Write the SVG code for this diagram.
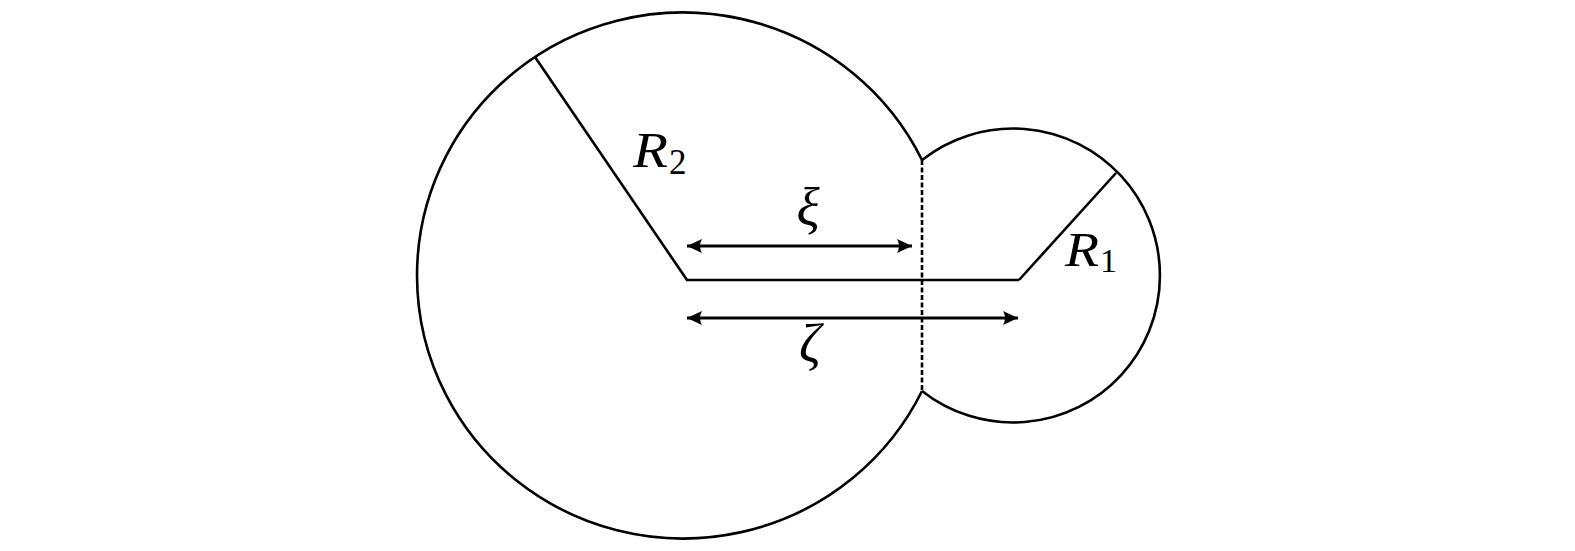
<svg xmlns="http://www.w3.org/2000/svg" width="1575" height="551" viewBox="0 0 1575 551">
  <style>
    .edge { fill: none; stroke: #000; stroke-width: 2.6; }
    .line { fill: none; stroke: #000; stroke-width: 2.6; }
    .arrow { fill: none; stroke: #000; stroke-width: 3.2; marker-start: url(#head); marker-end: url(#head); }
    .dash { fill: none; stroke: #000; stroke-width: 2.6; stroke-dasharray: 5 2.5; }
    .lbl { font-family: "Liberation Serif", "DejaVu Serif", serif; font-style: italic; fill: #000; }
    .sub { font-family: "Liberation Serif", "DejaVu Serif", serif; font-style: normal; fill: #000; }
  </style>
  <defs>
    <marker id="head" viewBox="-16 -8 17 16" refX="0" refY="0" markerWidth="17" markerHeight="16" markerUnits="userSpaceOnUse" orient="auto-start-reverse">
      <path d="M0,0 L-15,-7 Q-11,0 -15,7 Z" fill="#000"/>
    </marker>
  </defs>
  <rect width="1575" height="551" fill="#fff"/>
  <g id="big-circle">
    <path class="edge" d="M922,160 A266,263 0 1 0 922,391"/>
    <line class="line" x1="535" y1="57" x2="687" y2="280"/>
    <text class="lbl" x="633" y="167" font-size="50" textLength="35" lengthAdjust="spacingAndGlyphs">R</text>
    <text class="sub" x="669" y="174" font-size="35">2</text>
  </g>
  <g id="small-circle">
    <path class="edge" d="M922,160 A147,147 0 1 1 922,391"/>
    <line class="line" x1="1116" y1="173" x2="1019" y2="280"/>
    <text class="lbl" x="1065" y="266" font-size="48" textLength="34" lengthAdjust="spacingAndGlyphs">R</text>
    <text class="sub" x="1100" y="272" font-size="34">1</text>
  </g>
  <g id="connectors">
    <line class="line" x1="686" y1="280" x2="1019" y2="280"/>
    <line class="dash" x1="922" y1="160" x2="922" y2="391"/>
    <line class="arrow" x1="687" y1="246" x2="912" y2="246"/>
    <line class="arrow" x1="687" y1="318" x2="1018" y2="318"/>
  </g>
  <g id="labels">
    <text class="lbl" x="808" y="226" font-size="54" text-anchor="middle">ξ</text>
    <text class="lbl" x="810" y="362" font-size="54" text-anchor="middle">ζ</text>
  </g>
</svg>
